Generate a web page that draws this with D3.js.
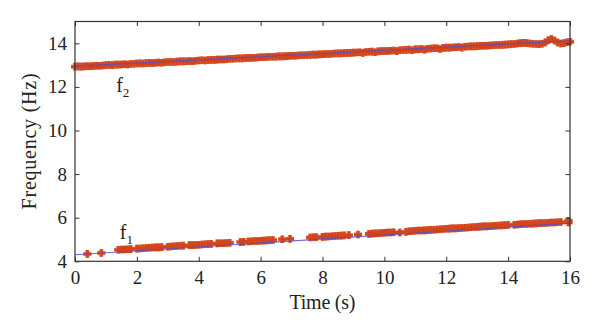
<!DOCTYPE html>
<html><head><meta charset="utf-8">
<script src="https://cdn.jsdelivr.net/npm/d3@7"></script>
<style>
html,body{margin:0;padding:0;background:#fff;}
svg{display:block;}
text{font-family:"Liberation Serif","Times New Roman",serif;fill:#222;}
</style></head>
<body>
<svg id="chart" width="600" height="334"></svg>
<script>
// ---------- data ----------
const xTicks = [0, 2, 4, 6, 8, 10, 12, 14, 16];
const yTicks = [4, 6, 8, 10, 12, 14];
const xLabel = "Time (s)";
const yLabel = "Frequency (Hz)";

// linear fits (blue lines)
const fitTime = [0, 16];
const f1Fit = [4.30, 5.75];
const f2Fit = [12.95, 14.12];

// measured f2 (every 0.1 s from 0 to 16)
const f2Time = [
 0.0,0.1,0.2,0.3,0.4,0.5,0.6,0.7,0.8,0.9,
 1.0,1.1,1.2,1.3,1.4,1.5,1.6,1.7,1.8,1.9,
 2.0,2.1,2.2,2.3,2.4,2.5,2.6,2.7,2.8,2.9,
 3.0,3.1,3.2,3.3,3.4,3.5,3.6,3.7,3.8,3.9,
 4.0,4.1,4.2,4.3,4.4,4.5,4.6,4.7,4.8,4.9,
 5.0,5.1,5.2,5.3,5.4,5.5,5.6,5.7,5.8,5.9,
 6.0,6.1,6.2,6.3,6.4,6.5,6.6,6.7,6.8,6.9,
 7.0,7.1,7.2,7.3,7.4,7.5,7.6,7.7,7.8,7.9,
 8.0,8.1,8.2,8.3,8.4,8.5,8.6,8.7,8.8,8.9,
 9.0,9.1,9.2,9.3,9.4,9.5,9.6,9.7,9.8,9.9,
 10.0,10.1,10.2,10.3,10.4,10.5,10.6,10.7,10.8,10.9,
 11.0,11.1,11.2,11.3,11.4,11.5,11.6,11.7,11.8,11.9,
 12.0,12.1,12.2,12.3,12.4,12.5,12.6,12.7,12.8,12.9,
 13.0,13.1,13.2,13.3,13.4,13.5,13.6,13.7,13.8,13.9,
 14.0,14.1,14.2,14.3,14.4,14.5,14.6,14.7,14.8,14.9,
 15.0,15.1,15.2,15.3,15.4,15.5,15.6,15.7,15.8,15.9,
 16.0];
const f2Freq = [
 12.93,12.94,12.93,12.94,12.95,12.95,12.96,12.97,12.97,12.98,
 13.00,13.01,13.00,13.02,13.02,13.03,13.04,13.03,13.05,13.06,
 13.07,13.08,13.07,13.09,13.10,13.09,13.11,13.12,13.11,13.13,
 13.14,13.15,13.14,13.16,13.17,13.17,13.18,13.19,13.18,13.20,
 13.21,13.22,13.21,13.23,13.24,13.24,13.25,13.26,13.26,13.27,
 13.29,13.29,13.30,13.31,13.31,13.32,13.33,13.33,13.34,13.35,
 13.36,13.36,13.37,13.38,13.38,13.39,13.40,13.40,13.41,13.42,
 13.43,13.43,13.44,13.45,13.45,13.46,13.47,13.48,13.48,13.49,
 13.50,13.51,13.51,13.52,13.53,13.54,13.54,13.55,13.56,13.56,
 13.57,13.58,13.59,13.56,13.60,13.61,13.62,13.59,13.63,13.64,
 13.65,13.65,13.66,13.67,13.64,13.68,13.69,13.70,13.71,13.68,
 13.72,13.73,13.74,13.71,13.75,13.76,13.77,13.77,13.74,13.79,
 13.80,13.80,13.81,13.82,13.83,13.80,13.84,13.85,13.86,13.86,
 13.87,13.88,13.89,13.89,13.90,13.91,13.92,13.92,13.93,13.94,
 13.95,13.96,13.97,13.99,14.01,14.02,14.01,13.99,13.98,13.97,
 13.96,13.98,14.04,14.14,14.20,14.13,14.04,13.99,14.01,14.05,
 14.07];

// measured f1 (with gaps where the component was not detected)
const f1Time = [
 0.4,0.85,
 1.4,1.5,1.6,1.7,1.8,2.0,2.1,2.2,2.3,2.4,2.5,2.6,2.7,2.8,
 3.0,3.1,3.2,3.3,3.4,3.5,3.7,3.8,3.9,4.0,4.1,4.2,4.3,4.4,4.6,4.7,4.8,4.9,5.0,
 5.35,5.45,5.6,5.7,5.8,5.9,6.0,6.1,6.2,6.3,6.4,6.7,6.95,
 7.6,7.7,7.8,8.0,8.1,8.2,8.3,8.4,8.5,8.6,8.7,8.85,9.15,
 9.5,9.6,9.7,9.8,9.9,10.0,10.1,10.2,10.3,10.5,10.7,
 10.8,10.9,11.0,11.1,11.2,11.3,11.4,11.5,11.6,
 11.7,11.8,11.9,12.0,12.1,12.2,12.3,12.4,12.5,12.6,12.7,12.8,12.9,
 13.0,13.1,13.2,13.3,13.4,13.5,13.6,13.7,13.8,13.9,14.0,
 14.2,14.3,14.4,14.5,14.6,14.7,14.8,14.9,15.0,15.1,15.2,15.3,15.4,15.5,15.6,15.7,
 15.95,15.95];
const f1Freq = [
 4.34,4.38,
 4.53,4.54,4.54,4.55,4.56,4.58,4.59,4.60,4.61,4.62,4.63,4.64,4.64,4.65,
 4.67,4.68,4.69,4.70,4.71,4.72,4.74,4.74,4.75,4.76,4.77,4.78,4.79,4.80,4.82,4.83,4.83,4.84,4.85,
 4.88,4.89,4.91,4.92,4.93,4.93,4.94,4.95,4.96,4.97,4.98,5.01,5.03,
 5.09,5.10,5.11,5.12,5.13,5.14,5.15,5.16,5.17,5.18,5.19,5.20,5.23,
 5.26,5.27,5.28,5.29,5.30,5.31,5.32,5.32,5.33,5.32,5.35,
 5.38,5.39,5.40,5.41,5.41,5.42,5.43,5.44,5.45,
 5.46,5.47,5.48,5.49,5.50,5.51,5.51,5.52,5.53,5.54,5.55,5.56,5.57,
 5.58,5.59,5.60,5.60,5.61,5.62,5.63,5.64,5.65,5.66,5.67,
 5.68,5.69,5.70,5.71,5.71,5.72,5.73,5.74,5.75,5.75,5.76,5.77,5.78,5.78,5.79,5.80,
 5.78,5.86];

// ---------- layout ----------
const L = 75, R = 570, T = 21.5, B = 261.3;
const svg = d3.select("#chart");
const x = d3.scaleLinear().domain([0, 16]).range([L, R]);
const y = d3.scaleLinear().domain([4, 15]).range([B, T]);

const redDark = "#d4441b", redHalo = "#eca68a", blue = "#5050cc";
const plus = "M-4,0H4M0,-3.8V3.8";

function drawMarkers(ts, fs) {
  const pts = ts.map((t, i) => [t, fs[i]]);
  const g = svg.append("g");
  g.selectAll("path.h").data(pts).join("path")
    .attr("d", plus).attr("transform", d => `translate(${x(d[0])},${y(d[1])})`)
    .attr("fill", "none").attr("stroke", redHalo).attr("stroke-width", 4.4);
  g.selectAll("path.m").data(pts).join("path")
    .attr("d", plus).attr("transform", d => `translate(${x(d[0])},${y(d[1])})`)
    .attr("fill", "none").attr("stroke", redDark).attr("stroke-width", 3.0);
}
drawMarkers(f2Time, f2Freq);
drawMarkers(f1Time, f1Freq);

const line = d3.line().x(d => x(d[0])).y(d => y(d[1]));
[f1Fit, f2Fit].forEach(fit => {
  svg.append("path").datum(fitTime.map((t, i) => [t, fit[i]]))
    .attr("d", line).attr("fill", "none").attr("stroke", blue)
    .attr("stroke-width", 1.1).attr("opacity", 0.85);
});

// ---------- axes ----------
const axisColor = "#333";
function styleAxis(g, labels) {
  g.select(".domain").remove();
  g.selectAll(".tick line").attr("stroke", axisColor).attr("stroke-width", 1);
  g.selectAll(".tick text").attr("font-size", 19).attr("fill", "#222")
    .attr("font-family", '"Liberation Serif",serif');
  if (!labels) g.selectAll(".tick text").remove();
}
svg.append("g").attr("transform", `translate(0,${B})`)
  .call(d3.axisBottom(x).tickValues(xTicks).tickFormat(d3.format("d")).tickSizeInner(-4.5).tickSizeOuter(0).tickPadding(9))
  .call(g => styleAxis(g, true));
svg.append("g").attr("transform", `translate(0,${T})`)
  .call(d3.axisTop(x).tickValues(xTicks).tickSizeInner(-4.5).tickSizeOuter(0))
  .call(g => styleAxis(g, false));
svg.append("g").attr("transform", `translate(${L},0)`)
  .call(d3.axisLeft(y).tickValues(yTicks).tickFormat(d3.format("d")).tickSizeInner(-4.5).tickSizeOuter(0).tickPadding(8))
  .call(g => styleAxis(g, true));
svg.append("g").attr("transform", `translate(${R},0)`)
  .call(d3.axisRight(y).tickValues(yTicks).tickSizeInner(-4.5).tickSizeOuter(0))
  .call(g => styleAxis(g, false));

svg.append("rect").attr("x", L).attr("y", T).attr("width", R - L).attr("height", B - T)
  .attr("fill", "none").attr("stroke", axisColor).attr("stroke-width", 1.2);

// ---------- titles ----------
svg.append("text").attr("x", (L + R) / 2).attr("y", 309).attr("text-anchor", "middle")
  .attr("font-size", 20).attr("textLength", 66).attr("lengthAdjust", "spacing").text(xLabel);
svg.append("text").attr("transform", `translate(36,${(T + B) / 2}) rotate(-90)`)
  .attr("text-anchor", "middle").attr("font-size", 20)
  .attr("textLength", 136).attr("lengthAdjust", "spacing").text(yLabel);

// ---------- component labels ----------
function compLabel(t, f, sub) {
  const tx = svg.append("text").attr("x", x(t)).attr("y", y(f)).attr("font-size", 20);
  tx.append("tspan").text("f");
  tx.append("tspan").attr("font-size", 13).attr("dy", 5).text(sub);
}
compLabel(1.33, 11.77, "2");
compLabel(1.45, 5.03, "1");
</script>
</body></html>
